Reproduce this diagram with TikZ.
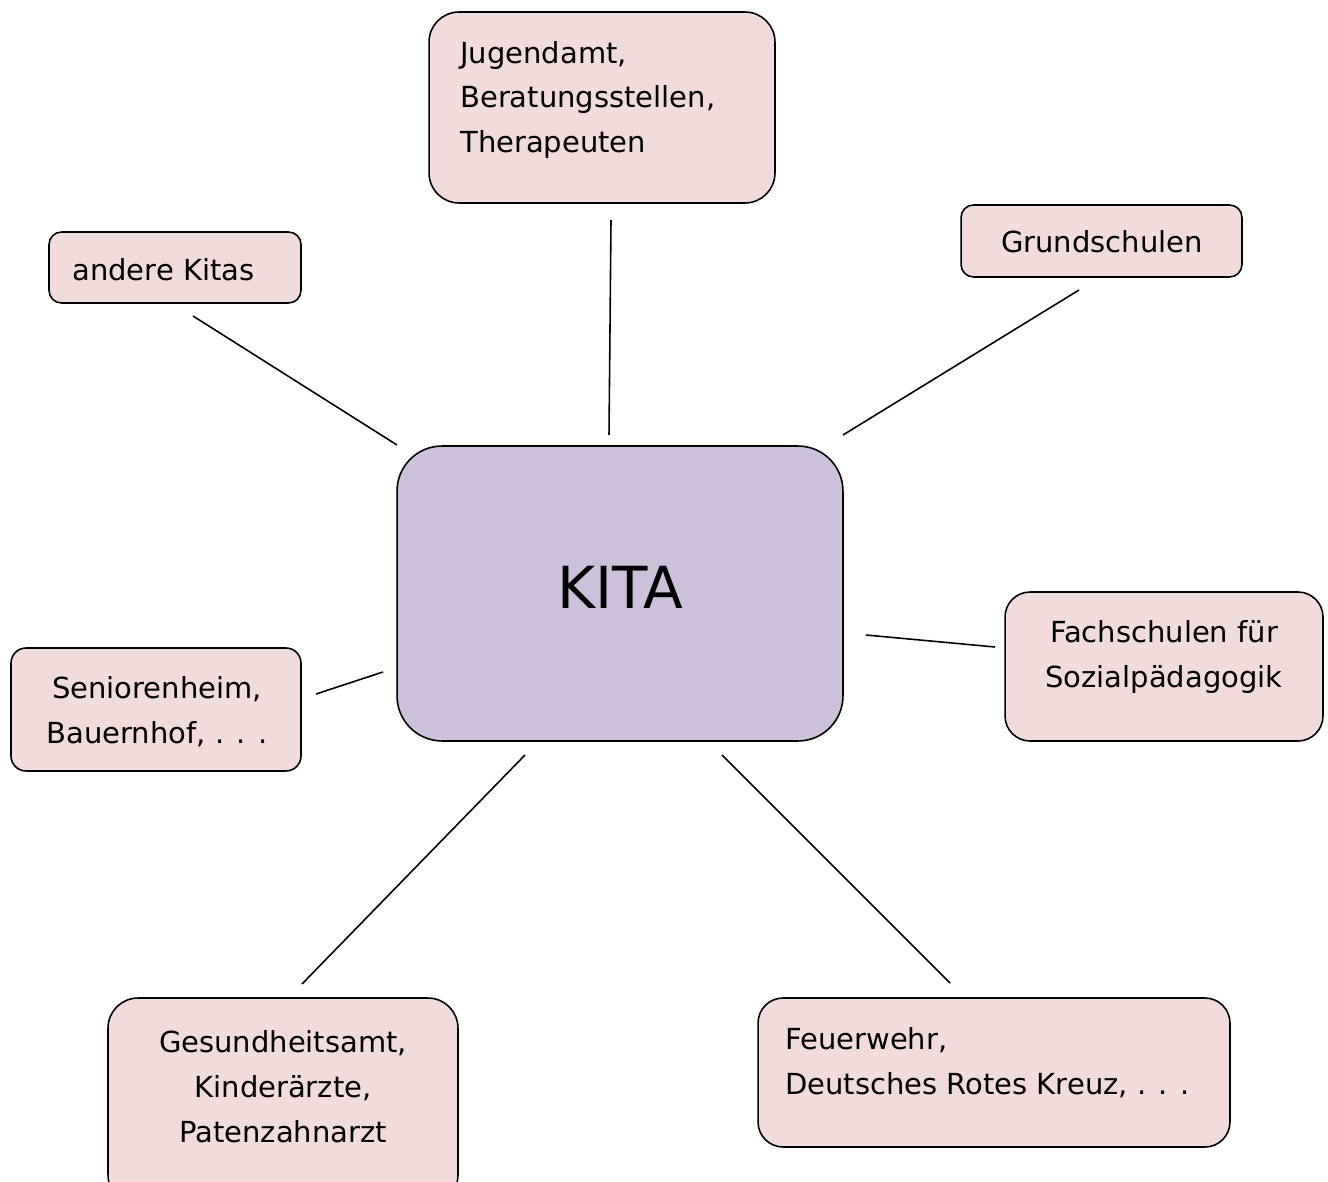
\documentclass[tikz,border=0pt]{standalone}
\usepackage{fontspec}
\setmainfont{DejaVu Sans}
\definecolor{boxpink}{HTML}{F2DCDB}
\definecolor{boxlilac}{HTML}{CCC0DA}
\begin{document}
\begin{tikzpicture}[x=0.02cm,y=-0.02cm,
  box/.style={draw=black, line width=0.9pt, fill=boxpink, rounded corners=#1, inner sep=0pt},
  box/.default=0.3cm,
  txt/.style={font=\fontsize{16.5}{25.6}\selectfont, inner sep=0pt},
  link/.style={draw=black, line width=0.9pt}]
\useasboundingbox (0,0) rectangle (1328,1182);
\fill[white] (0,0) rectangle (1328,1182);
% boxes
\node[box=0.6cm, minimum width=6.92cm, minimum height=3.82cm] (jug) at (602,107.5) {};
\node[box=0.25cm, minimum width=5.62cm, minimum height=1.44cm] (grund) at (1101.5,241) {};
\node[box=0.25cm, minimum width=5.04cm, minimum height=1.42cm] (andere) at (175,267.5) {};
\node[box=0.9cm, fill=boxlilac, minimum width=8.92cm, minimum height=5.9cm] (kita) at (620,593.5) {};
\node[box=0.5cm, minimum width=6.36cm, minimum height=2.98cm] (fach) at (1164,666.5) {};
\node[box=0.3cm, minimum width=5.8cm, minimum height=2.46cm] (senior) at (156,709.5) {};
\node[box=0.6cm, minimum width=7.0cm, minimum height=4.14cm] (gesund) at (283,1101.5) {};
\node[box=0.5cm, minimum width=9.44cm, minimum height=2.98cm] (feuer) at (994,1072.5) {};
% texts
\node[txt, anchor=west, align=left] (tjug) at (460,100) {Jugendamt,\\Beratungsstellen,\\Therapeuten};
\node[txt] (tgrund) at (1102,242) {Grundschulen};
\node[txt, anchor=west] (tandere) at (72,270) {andere Kitas};
\node[font=\fontsize{33}{38}\selectfont, inner sep=0pt] (tkita) at (620,587) {KITA};
\node[txt, align=center] (tfach) at (1164,657) {Fachschulen für\\Sozialpädagogik};
\node[txt, align=center] (tsenior) at (157,712) {Seniorenheim,\\Bauernhof, . . .};
\node[txt, align=center] (tgesund) at (283,1087) {Gesundheitsamt,\\Kinderärzte,\\Patenzahnarzt};
\node[txt, anchor=west, align=left] (tfeuer) at (785,1063) {Feuerwehr,\\Deutsches Rotes Kreuz, . . .};
% connector ends
\coordinate (a1) at (609,435); \coordinate (b1) at (611,220);
\coordinate (a2) at (397,445); \coordinate (b2) at (193,316);
\coordinate (a3) at (843,435); \coordinate (b3) at (1079,290);
\coordinate (a4) at (866,635); \coordinate (b4) at (995,647);
\coordinate (a5) at (383,672); \coordinate (b5) at (316,694);
\coordinate (a6) at (525,755); \coordinate (b6) at (302,984);
\coordinate (a7) at (722,755); \coordinate (b7) at (950,983);
\foreach \i in {1,...,7} {\draw[link] (a\i) -- (b\i);}
\end{tikzpicture}
\end{document}
